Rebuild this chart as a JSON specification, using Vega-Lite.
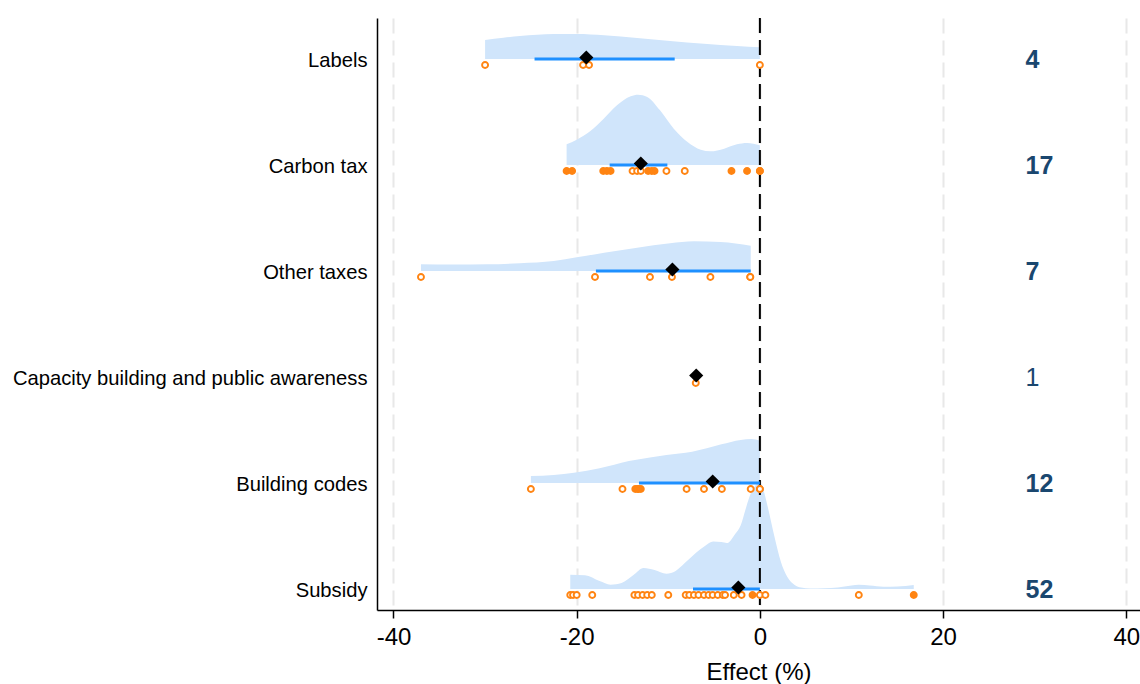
{
  "$schema": "https://vega.github.io/schema/vega-lite/v6.json",
  "width": 763,
  "height": 592,
  "autosize": {"type": "none"},
  "padding": {"left": 377, "top": 18, "right": 0, "bottom": 74},
  "background": "white",
  "config": {
    "view": {"stroke": null},
    "font": "Liberation Sans"
  },
  "datasets": {
    "dens": [
      {"row": 6, "x": -30.0, "top": 6.179}, {"row": 6, "x": -28.0, "top": 6.201}, {"row": 6, "x": -26.2, "top": 6.217}, {"row": 6, "x": -24.3, "top": 6.229}, {"row": 6, "x": -22.5, "top": 6.236}, {"row": 6, "x": -20.0, "top": 6.236}, {"row": 6, "x": -17.0, "top": 6.224}, {"row": 6, "x": -13.4, "top": 6.198}, {"row": 6, "x": -9.8, "top": 6.170}, {"row": 6, "x": -6.1, "top": 6.144}, {"row": 6, "x": -2.5, "top": 6.123}, {"row": 6, "x": 0.0, "top": 6.110},
      {"row": 5, "x": -21.1, "top": 5.195}, {"row": 5, "x": -20.0, "top": 5.239}, {"row": 5, "x": -18.5, "top": 5.321}, {"row": 5, "x": -17.05, "top": 5.437}, {"row": 5, "x": -15.6, "top": 5.563}, {"row": 5, "x": -14.1, "top": 5.648}, {"row": 5, "x": -13.3, "top": 5.663}, {"row": 5, "x": -12.3, "top": 5.642}, {"row": 5, "x": -10.9, "top": 5.516}, {"row": 5, "x": -9.4, "top": 5.342}, {"row": 5, "x": -7.9, "top": 5.217}, {"row": 5, "x": -6.45, "top": 5.144}, {"row": 5, "x": -5.4, "top": 5.129}, {"row": 5, "x": -3.9, "top": 5.154}, {"row": 5, "x": -2.5, "top": 5.195}, {"row": 5, "x": -1.4, "top": 5.208}, {"row": 5, "x": 0.0, "top": 5.186},
      {"row": 4, "x": -37.0, "top": 4.063}, {"row": 4, "x": -33.4, "top": 4.061}, {"row": 4, "x": -29.8, "top": 4.063}, {"row": 4, "x": -26.2, "top": 4.073}, {"row": 4, "x": -22.5, "top": 4.094}, {"row": 4, "x": -20.0, "top": 4.129}, {"row": 4, "x": -17.0, "top": 4.173}, {"row": 4, "x": -13.4, "top": 4.220}, {"row": 4, "x": -9.8, "top": 4.261}, {"row": 4, "x": -7.2, "top": 4.280}, {"row": 4, "x": -4.3, "top": 4.274}, {"row": 4, "x": -1.0, "top": 4.239},
      {"row": 2, "x": -25.0, "top": 2.066}, {"row": 2, "x": -22.5, "top": 2.075}, {"row": 2, "x": -20.3, "top": 2.097}, {"row": 2, "x": -17.5, "top": 2.139}, {"row": 2, "x": -14.3, "top": 2.208}, {"row": 2, "x": -12.0, "top": 2.241}, {"row": 2, "x": -10.2, "top": 2.264}, {"row": 2, "x": -7.4, "top": 2.295}, {"row": 2, "x": -4.2, "top": 2.365}, {"row": 2, "x": -2.1, "top": 2.406}, {"row": 2, "x": -0.9, "top": 2.415}, {"row": 2, "x": 0.0, "top": 2.399},
      {"row": 1, "x": -20.7, "top": 1.135}, {"row": 1, "x": -19.1, "top": 1.129}, {"row": 1, "x": -17.5, "top": 1.075}, {"row": 1, "x": -16.3, "top": 1.041}, {"row": 1, "x": -15.1, "top": 1.057}, {"row": 1, "x": -13.8, "top": 1.132}, {"row": 1, "x": -12.7, "top": 1.198}, {"row": 1, "x": -11.5, "top": 1.179}, {"row": 1, "x": -10.2, "top": 1.144}, {"row": 1, "x": -9.2, "top": 1.170}, {"row": 1, "x": -8.2, "top": 1.245}, {"row": 1, "x": -7.0, "top": 1.340}, {"row": 1, "x": -6.0, "top": 1.406}, {"row": 1, "x": -5.1, "top": 1.449}, {"row": 1, "x": -4.2, "top": 1.443}, {"row": 1, "x": -3.6, "top": 1.434}, {"row": 1, "x": -2.7, "top": 1.520}, {"row": 1, "x": -2.1, "top": 1.600}, {"row": 1, "x": -1.5, "top": 1.770}, {"row": 1, "x": -1.0, "top": 1.900}, {"row": 1, "x": -0.5, "top": 1.975}, {"row": 1, "x": -0.2, "top": 2.000}, {"row": 1, "x": 0.2, "top": 1.985}, {"row": 1, "x": 0.5, "top": 1.900}, {"row": 1, "x": 0.9, "top": 1.760}, {"row": 1, "x": 1.6, "top": 1.491}, {"row": 1, "x": 2.3, "top": 1.255}, {"row": 1, "x": 3.0, "top": 1.113}, {"row": 1, "x": 3.8, "top": 1.038}, {"row": 1, "x": 4.5, "top": 1.014}, {"row": 1, "x": 5.5, "top": 1.005}, {"row": 1, "x": 7.0, "top": 1.007}, {"row": 1, "x": 8.5, "top": 1.014}, {"row": 1, "x": 10.0, "top": 1.033}, {"row": 1, "x": 10.8, "top": 1.041}, {"row": 1, "x": 12.0, "top": 1.033}, {"row": 1, "x": 13.5, "top": 1.022}, {"row": 1, "x": 15.0, "top": 1.024}, {"row": 1, "x": 16.8, "top": 1.038}
    ],
    "pts": [
      {"row": 6, "x": -30.0, "filled": false}, {"row": 6, "x": -19.3, "filled": false}, {"row": 6, "x": -18.65, "filled": false}, {"row": 6, "x": 0.0, "filled": false},
      {"row": 5, "x": -21.1, "filled": true}, {"row": 5, "x": -20.5, "filled": true}, {"row": 5, "x": -17.1, "filled": true}, {"row": 5, "x": -16.7, "filled": true}, {"row": 5, "x": -16.3, "filled": true}, {"row": 5, "x": -13.9, "filled": false}, {"row": 5, "x": -13.4, "filled": false}, {"row": 5, "x": -13.0, "filled": false}, {"row": 5, "x": -12.2, "filled": true}, {"row": 5, "x": -11.8, "filled": true}, {"row": 5, "x": -11.5, "filled": true}, {"row": 5, "x": -10.2, "filled": false}, {"row": 5, "x": -8.2, "filled": false}, {"row": 5, "x": -3.1, "filled": true}, {"row": 5, "x": -1.4, "filled": true}, {"row": 5, "x": 0.0, "filled": true}, {"row": 5, "x": 0.0, "filled": true},
      {"row": 4, "x": -37.0, "filled": false}, {"row": 4, "x": -18.0, "filled": false}, {"row": 4, "x": -12.0, "filled": false}, {"row": 4, "x": -9.6, "filled": false}, {"row": 4, "x": -5.4, "filled": false}, {"row": 4, "x": -1.05, "filled": false}, {"row": 4, "x": -1.05, "filled": false},
      {"row": 3, "x": -7.0, "filled": false},
      {"row": 2, "x": -25.0, "filled": false}, {"row": 2, "x": -15.0, "filled": false}, {"row": 2, "x": -13.6, "filled": true}, {"row": 2, "x": -13.3, "filled": true}, {"row": 2, "x": -13.0, "filled": true}, {"row": 2, "x": -8.0, "filled": false}, {"row": 2, "x": -6.1, "filled": false}, {"row": 2, "x": -4.15, "filled": false}, {"row": 2, "x": -1.0, "filled": false}, {"row": 2, "x": 0.0, "filled": false}, {"row": 2, "x": 0.0, "filled": false}, {"row": 2, "x": -13.3, "filled": true},
      {"row": 1, "x": -20.7, "filled": false}, {"row": 1, "x": -20.4, "filled": false}, {"row": 1, "x": -20.0, "filled": false}, {"row": 1, "x": -18.3, "filled": false}, {"row": 1, "x": -13.7, "filled": false}, {"row": 1, "x": -13.3, "filled": false}, {"row": 1, "x": -12.8, "filled": false}, {"row": 1, "x": -12.3, "filled": false}, {"row": 1, "x": -11.8, "filled": false}, {"row": 1, "x": -10.0, "filled": false}, {"row": 1, "x": -8.1, "filled": false}, {"row": 1, "x": -7.7, "filled": false}, {"row": 1, "x": -7.2, "filled": false}, {"row": 1, "x": -6.7, "filled": false}, {"row": 1, "x": -6.1, "filled": false}, {"row": 1, "x": -5.6, "filled": false}, {"row": 1, "x": -5.15, "filled": false}, {"row": 1, "x": -4.6, "filled": false}, {"row": 1, "x": -4.05, "filled": false}, {"row": 1, "x": -3.8, "filled": false}, {"row": 1, "x": -2.85, "filled": false}, {"row": 1, "x": -2.0, "filled": false}, {"row": 1, "x": -0.8, "filled": true}, {"row": 1, "x": 0.0, "filled": false}, {"row": 1, "x": 0.6, "filled": false}, {"row": 1, "x": 10.8, "filled": false}, {"row": 1, "x": 16.8, "filled": true}
    ],
    "ci": [
      {"row": 6, "lo": -24.6, "hi": -9.3},
      {"row": 5, "lo": -16.4, "hi": -10.1},
      {"row": 4, "lo": -17.9, "hi": -1.0},
      {"row": 2, "lo": -13.2, "hi": 0.0},
      {"row": 1, "lo": -7.3, "hi": 0.0}
    ],
    "means": [
      {"row": 6, "mean": -18.95},
      {"row": 5, "mean": -13.0},
      {"row": 4, "mean": -9.55},
      {"row": 3, "mean": -6.95},
      {"row": 2, "mean": -5.15},
      {"row": 1, "mean": -2.35}
    ],
    "counts": [
      {"row": 6, "n": 4},
      {"row": 5, "n": 17},
      {"row": 4, "n": 7},
      {"row": 3, "n": 1},
      {"row": 2, "n": 12},
      {"row": 1, "n": 52}
    ]
  },
  "layer": [
    {
      "data": {"name": "dens"},
      "mark": {"type": "area", "color": "#d0e5fb", "opacity": 1, "interpolate": "monotone"},
      "encoding": {
        "x": {
          "field": "x", "type": "quantitative",
          "scale": {"domain": [-41.8, 41.5], "nice": false, "zero": false},
          "axis": {
            "values": [-40, -20, 0, 20, 40],
            "labelExpr": "'' + datum.value",
            "title": "Effect (%)",
            "titleFontSize": 24, "titleFontWeight": "normal", "titleColor": "black", "titleFont": "Liberation Sans",
            "titlePadding": 11,
            "labelFontSize": 24, "labelColor": "black", "labelFont": "Liberation Sans", "labelPadding": 7,
            "grid": true, "gridColor": "#e8e8e8", "gridDash": [15, 7], "gridWidth": 2,
            "domainColor": "black", "domainWidth": 1.5,
            "tickColor": "black", "tickSize": 8, "tickWidth": 1.5,
            "labelFlush": false
          }
        },
        "y": {
          "field": "top", "type": "quantitative",
          "scale": {"domain": [0.802, 6.387], "nice": false, "zero": false},
          "axis": {
            "values": [1, 2, 3, 4, 5, 6],
            "title": null,
            "grid": false, "ticks": false,
            "domainColor": "black", "domainWidth": 1.5,
            "labelFontSize": 20.2, "labelColor": "black", "labelFont": "Liberation Sans", "labelPadding": 10,
            "labelLimit": 0, "labelOffset": 1,
            "labelExpr": "datum.value == 1 ? 'Subsidy' : datum.value == 2 ? 'Building codes' : datum.value == 3 ? 'Capacity building and public awareness' : datum.value == 4 ? 'Other taxes' : datum.value == 5 ? 'Carbon tax' : 'Labels'"
          }
        },
        "y2": {"field": "row"},
        "detail": {"field": "row", "type": "nominal"}
      }
    },
    {
      "data": {"values": [{"zero": 0}]},
      "mark": {"type": "rule", "color": "black", "strokeWidth": 2, "strokeDash": [15, 7]},
      "encoding": {"x": {"field": "zero", "type": "quantitative"}}
    },
    {
      "data": {"name": "ci"},
      "mark": {"type": "rule", "color": "#1e90ff", "strokeWidth": 3},
      "encoding": {
        "x": {"field": "lo", "type": "quantitative"},
        "x2": {"field": "hi"},
        "y": {"field": "row", "type": "quantitative"}
      }
    },
    {
      "data": {"name": "pts"},
      "transform": [{"filter": "!datum.filled"}],
      "mark": {"type": "point", "shape": "circle", "size": 36, "strokeWidth": 1.9, "stroke": "#ff8412", "fill": "white", "filled": false, "fillOpacity": 1, "opacity": 1, "yOffset": 6},
      "encoding": {
        "x": {"field": "x", "type": "quantitative"},
        "y": {"field": "row", "type": "quantitative"}
      }
    },
    {
      "data": {"name": "pts"},
      "transform": [{"filter": "datum.filled"}],
      "mark": {"type": "point", "shape": "circle", "size": 36, "strokeWidth": 1.9, "stroke": "#ff8412", "fill": "#ff8412", "filled": true, "opacity": 1, "yOffset": 6},
      "encoding": {
        "x": {"field": "x", "type": "quantitative"},
        "y": {"field": "row", "type": "quantitative"}
      }
    },
    {
      "data": {"name": "means"},
      "mark": {"type": "point", "shape": "diamond", "size": 200, "filled": true, "color": "black", "opacity": 1, "yOffset": -1.5},
      "encoding": {
        "x": {"field": "mean", "type": "quantitative"},
        "y": {"field": "row", "type": "quantitative"}
      }
    },
    {
      "data": {"name": "counts"},
      "transform": [{"filter": "datum.n != 1"}],
      "mark": {"type": "text", "align": "left", "baseline": "middle", "fontSize": 25, "fontWeight": "bold", "color": "#1a476f", "font": "Liberation Sans", "dy": 1},
      "encoding": {
        "x": {"datum": 29, "type": "quantitative"},
        "y": {"field": "row", "type": "quantitative"},
        "text": {"field": "n", "type": "quantitative"}
      }
    },
    {
      "data": {"name": "counts"},
      "transform": [{"filter": "datum.n == 1"}],
      "mark": {"type": "text", "align": "left", "baseline": "middle", "fontSize": 25, "fontWeight": "normal", "color": "#1a476f", "font": "Liberation Sans", "dy": 1},
      "encoding": {
        "x": {"datum": 29, "type": "quantitative"},
        "y": {"field": "row", "type": "quantitative"},
        "text": {"field": "n", "type": "quantitative"}
      }
    }
  ]
}
